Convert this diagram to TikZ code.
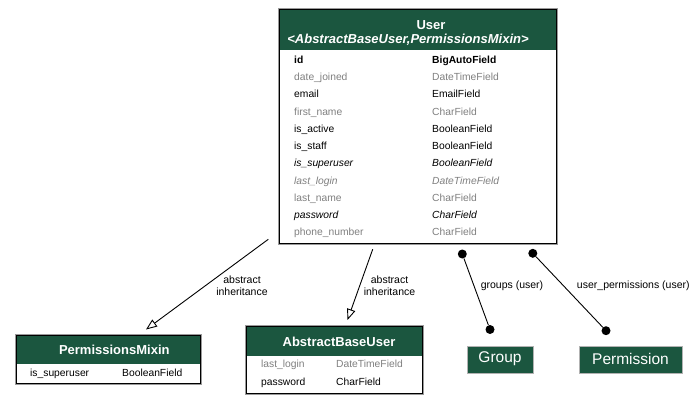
\documentclass[tikz,border=0pt]{standalone}
\usepackage{fontspec}
\setmainfont{Liberation Sans}
\usetikzlibrary{arrows.meta}
\definecolor{hdr}{HTML}{1B563F}
\definecolor{gr}{HTML}{808080}
\definecolor{frame}{HTML}{9A9A9A}
\tikzset{
  fld/.style={anchor=base west, inner sep=0pt, font=\fontsize{10.3}{12}\selectfont},
  gfld/.style={fld, text=gr},
  boxnode/.style={draw=black, line width=1pt, fill=white, inner sep=0pt, outer sep=0pt, anchor=north west},
  outerframe/.style={draw=frame, line width=0.8pt},
  hdrtext/.style={inner sep=0pt, text=white, font=\fontsize{13}{15}\selectfont\bfseries},
  tagbox/.style={fill=hdr, draw=gray!60, line width=0.4pt, inner sep=0pt},
  tagtext/.style={inner sep=0pt, text=white, font=\fontsize{15.5}{18}\selectfont},
  elabel/.style={inner sep=0pt, align=center, font=\fontsize{10.5}{12.4}\selectfont},
  inherit/.style={draw=black, line width=0.9pt, -{Triangle[open, length=11pt, width=8.5pt, fill=white]}},
  dotnode/.style={circle, fill=black, inner sep=0pt, minimum size=9pt},
  assoc/.style={draw=black, line width=0.9pt},
}
\begin{document}
\begin{tikzpicture}[x=1pt, y=-1pt]
\useasboundingbox[fill=white] (0,0) rectangle (698,403);

% ---------- User ----------
\draw[outerframe] (278,8.5) rectangle (557,244.5);
\node[boxnode, minimum width=277pt, minimum height=234pt] (user) at (279,9.5) {};
\fill[hdr] (279.5,10) rectangle (555.5,50);
\draw[line width=1pt] (279,9.5) rectangle (556,243.5);
\node[hdrtext] (usert) at (431,25.5) {User};
\node[hdrtext, font=\fontsize{13}{15}\selectfont\bfseries\itshape] (users) at (408,39.5) {<AbstractBaseUser,PermissionsMixin>};

\node[fld, font=\fontsize{10.3}{12}\selectfont\bfseries] (u1a) at (294,63.3) {id};
\node[fld, font=\fontsize{10.3}{12}\selectfont\bfseries] (u1b) at (432,63.3) {BigAutoField};
\node[gfld] (u2a) at (294,80.6) {date\_joined};
\node[gfld] (u2b) at (432,80.6) {DateTimeField};
\node[fld] (u3a) at (294,97.8) {email};
\node[fld] (u3b) at (432,97.8) {EmailField};
\node[gfld] (u4a) at (294,115.1) {first\_name};
\node[gfld] (u4b) at (432,115.1) {CharField};
\node[fld] (u5a) at (294,132.3) {is\_active};
\node[fld] (u5b) at (432,132.3) {BooleanField};
\node[fld] (u6a) at (294,149.6) {is\_staff};
\node[fld] (u6b) at (432,149.6) {BooleanField};
\node[fld, font=\fontsize{10.3}{12}\selectfont\itshape] (u7a) at (294,166.8) {is\_superuser};
\node[fld, font=\fontsize{10.3}{12}\selectfont\itshape] (u7b) at (432,166.8) {BooleanField};
\node[gfld, font=\fontsize{10.3}{12}\selectfont\itshape] (u8a) at (294,184.1) {last\_login};
\node[gfld, font=\fontsize{10.3}{12}\selectfont\itshape] (u8b) at (432,184.1) {DateTimeField};
\node[gfld] (u9a) at (294,201.3) {last\_name};
\node[gfld] (u9b) at (432,201.3) {CharField};
\node[fld, font=\fontsize{10.3}{12}\selectfont\itshape] (u10a) at (294,218.6) {password};
\node[fld, font=\fontsize{10.3}{12}\selectfont\itshape] (u10b) at (432,218.6) {CharField};
\node[gfld] (u11a) at (294,235.8) {phone\_number};
\node[gfld] (u11b) at (432,235.8) {CharField};

% ---------- PermissionsMixin ----------
\draw[outerframe] (15,334.5) rectangle (201,384.5);
\node[boxnode, minimum width=184pt, minimum height=48pt] (pm) at (16,335.5) {};
\fill[hdr] (16.5,336) rectangle (199.5,364);
\draw[line width=1pt] (16,335.5) rectangle (200,383.5);
\node[hdrtext] (pmt) at (114.3,349.5) {PermissionsMixin};
\node[fld] (pm1a) at (30,376.2) {is\_superuser};
\node[fld] (pm1b) at (122,376.2) {BooleanField};

% ---------- AbstractBaseUser ----------
\draw[outerframe] (245,325.5) rectangle (423,394);
\node[boxnode, minimum width=176pt, minimum height=66.5pt] (abu) at (246,326.5) {};
\fill[hdr] (246.5,327) rectangle (421.5,356);
\draw[line width=1pt] (246,326.5) rectangle (422,393);
\node[hdrtext] (abut) at (339,341.5) {AbstractBaseUser};
\node[gfld] (abu1a) at (261,367.6) {last\_login};
\node[gfld] (abu1b) at (336,367.6) {DateTimeField};
\node[fld] (abu2a) at (261,385.3) {password};
\node[fld] (abu2b) at (336,385.3) {CharField};

% ---------- Group / Permission ----------
\node[tagbox, minimum width=66pt, minimum height=27pt] (group) at (500,359.5) {};
\node[tagtext] (groupt) at (500,358.5) {Group};
\node[tagbox, minimum width=103pt, minimum height=27pt] (perm) at (630.5,359.5) {};
\node[tagtext] (permt) at (630.5,358.5) {Permission};

% ---------- inheritance edges ----------
\coordinate (pmstart) at (268.3,239.3);
\coordinate (pmtip) at (146,329.5);
\coordinate (abustart) at (372.7,249.3);
\coordinate (abutip) at (347.5,320);
\draw[inherit] (pmstart) -- (pmtip);
\draw[inherit] (abustart) -- (abutip);
\node[elabel] (l1) at (242,285.5) {abstract\\inheritance};
\node[elabel] (l2) at (389.5,285.5) {abstract\\inheritance};

% ---------- association edges ----------
\node[dotnode] (g1) at (462.3,254) {};
\node[dotnode] (g2) at (490,329.5) {};
\node[dotnode] (p1) at (532.8,253.3) {};
\node[dotnode] (p2) at (606,330.7) {};
\draw[assoc] (g1) -- (g2);
\draw[assoc] (p1) -- (p2);
\node[elabel] (l3) at (512,285.7) {groups (user)};
\node[elabel] (l4) at (633.3,285.7) {user\_permissions (user)};
\end{tikzpicture}
\end{document}
